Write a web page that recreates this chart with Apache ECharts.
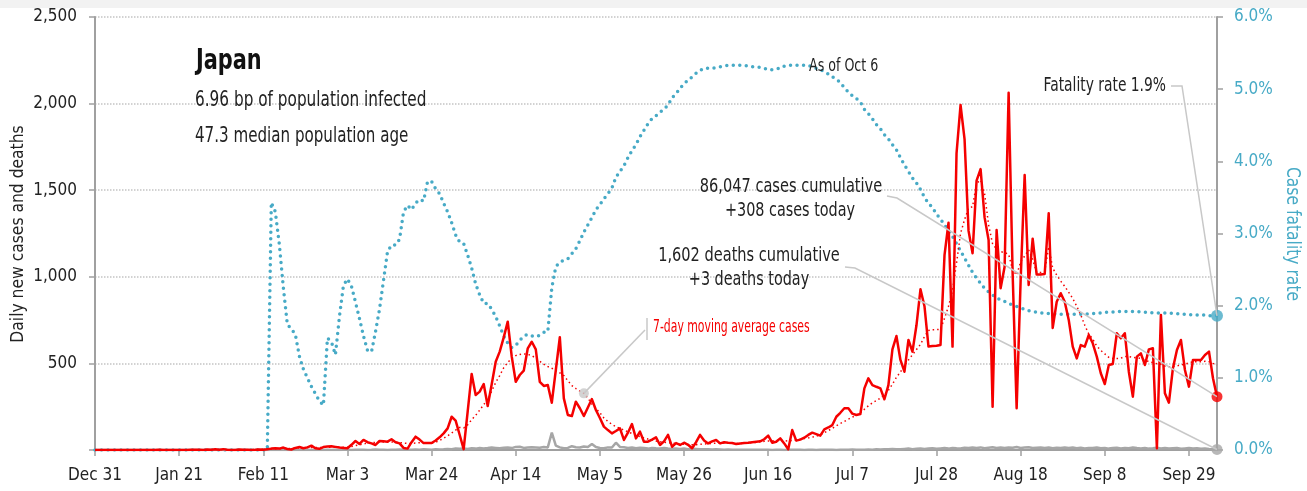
<!DOCTYPE html>
<html>
<head>
<meta charset="utf-8">
<script src="https://cdn.jsdelivr.net/npm/echarts@6/dist/echarts.min.js"></script>
<style>
  html, body { margin: 0; padding: 0; background: #fff; }
  #chart { width: 1307px; height: 491px; }
</style>
</head>
<body>
<div id="chart"></div>
<script>
// daily data, Dec 31 .. Oct 6 (281 days)
var startDay = Date.UTC(2019, 11, 31);
var dayCount = 281;
var months = ['Jan','Feb','Mar','Apr','May','Jun','Jul','Aug','Sep','Oct','Nov','Dec'];
var tickEvery = 21;

var cases = [
  0,0,0,0,0,0,0,0,0,0, 0,0,0,0,0,0,1,0,0,0,
  0,0,0,0,1,1,1,0,3,1, 4,2,5,2,0,0,3,2,1,0,
  1,3,2,4,8,10,8,14,6,3, 12,17,10,15,25,10,7,17,20,21,
  18,14,12,10,30,52,35,58,45,38, 29,52,50,48,62,45,38,12,8,45,
  77,60,40,40,40,55,73,96,125,192, 170,88,5,222,439,318,337,381,254,380,
  510,568,650,741,539,394,433,458,587,625, 581,394,370,375,273,462,651,298,202,196,
  279,241,196,245,294,231,185,135,115,96, 110,125,58,100,150,67,106,48,48,60,
  73,29,50,87,19,40,29,42,30,10, 45,87,55,38,50,58,38,45,42,40,
  35,38,40,42,45,48,50,62,83,42, 48,67,38,4,115,54,60,71,87,100,
  92,83,119,130,144,192,215,241,241,210, 202,208,356,414,375,365,356,293,375,581,
  658,520,452,635,568,720,928,830,597,600, 602,606,1125,1312,597,1713,1992,1795,1265,1136,
  1555,1622,1343,1213,250,1270,934,1058,2062,1020, 241,982,1588,953,1220,1013,1013,1016,1367,705,
  856,905,856,751,597,529,606,597,664,616, 539,443,381,491,497,674,645,674,452,308,
  539,558,491,581,587,10,780,327,273,472, 577,635,462,366,520,520,520,549,568,414,
  308
];

var avg7 = [
  0,0,0,0,0,0,0,0,0,0, 0,0,0,0,0,0,0,0,0,0,
  0,0,0,0,1,1,1,1,2,2, 2,2,2,2,2,2,2,2,2,2,
  3,4,5,6,6,7,7,8,8,8, 10,12,13,14,14,15,15,15,16,16,
  16,16,16,16,20,25,30,35,40,42, 44,45,46,47,46,45,43,40,38,38,
  40,42,42,40,40,45,55,68,82,98, 115,130,127,145,175,200,230,262,290,340,
  390,430,475,505,530,545,552,555,552,545, 530,512,495,482,472,460,445,430,400,372,
  355,340,327,300,265,240,215,185,165,148, 135,125,115,105,95,85,78,70,63,57,
  52,48,45,42,40,38,35,33,32,30, 31,33,35,36,38,40,40,41,40,39,
  38,38,39,41,42,44,47,50,52,53, 54,55,54,52,55,58,62,66,70,74,
  80,88,100,112,125,140,153,165,178,190, 200,215,235,255,272,285,300,320,345,380,
  420,450,490,520,550,580,610,655,690,695, 695,697,760,830,920,1080,1250,1330,1395,1405,
  1540,1559,1480,1300,1190,1160,1145,1140,1130,1040, 1010,1087,1120,1155,1100,1025,1025,1030,1174,1050,
  1010,975,945,910,875,830,780,720,670,640, 600,575,555,535,528,528,530,540,540,535,
  532,529,520,510,505,498,495,485,481,482, 486,491,496,502,510,510,510,512,510,500,
  491
];

var deaths = [
  0,0,0,0,0,0,0,0,0,0, 0,0,0,0,0,0,0,0,0,0,
  0,0,0,0,0,0,0,0,0,0, 0,0,0,0,0,0,0,0,0,0,
  0,0,0,0,1,0,0,0,0,0, 0,0,0,1,0,0,1,0,1,0,
  1,0,2,1,0,1,1,2,0,1, 3,1,2,0,2,1,3,2,1,2,
  3,2,4,3,2,5,3,4,6,5, 8,7,9,6,10,8,12,9,11,14,
  12,10,13,15,11,18,19,12,14,16, 15,13,17,15,100,25,15,10,12,22,
  16,14,20,18,35,17,12,10,15,14, 42,18,16,12,14,10,13,11,8,12,
  10,9,11,8,7,9,6,8,5,7, 6,5,4,5,3,4,3,2,3,2,
  2,1,2,1,2,1,1,2,1,0, 1,1,0,1,2,1,1,0,1,1,
  0,1,1,2,1,0,1,2,1,3, 2,1,2,3,2,4,3,5,4,6,
  5,4,6,8,5,7,9,6,8,10, 7,9,11,8,12,10,9,13,11,14,
  12,15,10,13,16,12,14,11,15,13, 17,12,14,16,11,13,15,12,14,10,
  13,11,15,12,14,10,13,9,12,11, 14,10,12,8,11,13,9,12,10,14,
  11,9,12,8,10,13,9,11,8,10, 12,7,9,11,8,10,7,9,6,5,
  3
];

var fatalityRate = [
  0,0,0,0,0,0,0,0,0,0, 0,0,0,0,0,0,0,0,0,0,
  0,0,0,0,0,0,0,0,0,0, 0,0,0,0,0,0,0,0,0,0,
  0,0,0,0,3.43,3.30,2.85,2.25,1.74,1.68, 1.60,1.30,1.12,1.00,0.88,0.78,0.68,0.62,1.55,1.50,
  1.32,1.85,2.28,2.37,2.27,2.05,1.82,1.58,1.38,1.36, 1.64,1.95,2.35,2.75,2.84,2.84,2.92,3.30,3.39,3.33,
  3.42,3.47,3.45,3.72,3.72,3.62,3.55,3.42,3.30,3.15, 2.98,2.88,2.86,2.70,2.52,2.30,2.15,2.03,2.03,1.95,
  1.85,1.72,1.58,1.48,1.42,1.45,1.52,1.58,1.60,1.58, 1.57,1.59,1.63,1.64,2.25,2.54,2.60,2.63,2.65,2.72,
  2.79,2.90,3.02,3.12,3.22,3.33,3.40,3.48,3.55,3.63, 3.78,3.86,3.94,4.05,4.15,4.23,4.34,4.43,4.52,4.59,
  4.63,4.68,4.72,4.78,4.88,4.94,5.01,5.08,5.12,5.17, 5.22,5.26,5.29,5.29,5.29,5.30,5.31,5.32,5.33,5.33,
  5.33,5.33,5.33,5.32,5.31,5.31,5.30,5.29,5.27,5.27, 5.28,5.29,5.32,5.33,5.33,5.33,5.33,5.33,5.33,5.31,
  5.29,5.27,5.24,5.21,5.17,5.14,5.09,5.02,4.96,4.91, 4.87,4.82,4.72,4.66,4.59,4.51,4.45,4.37,4.31,4.23,
  4.16,4.05,3.95,3.86,3.77,3.70,3.61,3.50,3.42,3.36, 3.27,3.20,3.12,3.04,2.96,2.86,2.76,2.66,2.56,2.46,
  2.38,2.31,2.24,2.19,2.15,2.11,2.08,2.06,2.03,2.01, 1.99,1.97,1.95,1.93,1.92,1.91,1.90,1.90,1.89,1.89,
  1.88,1.88,1.88,1.88,1.88,1.88,1.88,1.88,1.89,1.89, 1.90,1.90,1.91,1.91,1.91,1.92,1.92,1.92,1.92,1.92,
  1.92,1.91,1.91,1.91,1.90,1.90,1.90,1.90,1.90,1.89, 1.89,1.88,1.88,1.88,1.87,1.87,1.87,1.87,1.86,1.86,
  1.86
];

var calloutDay = 122;  // where the moving-average label points

var dates = [];
for (var i = 0; i < dayCount; i++) {
  var d = new Date(startDay + i * 86400000);
  dates.push(months[d.getUTCMonth()] + ' ' + d.getUTCDate());
}

var RED = '#f50000';
var TEAL = '#47aac6';
var GRAY = '#a6a6a6';
var AXIS = '#a0a0a0';
var FONT = "'Liberation Sans Narrow', 'DejaVu Sans Condensed', sans-serif";
var last = dayCount - 1;

var chart = echarts.init(document.getElementById('chart'));

var option = {
  animation: false,
  backgroundColor: '#fff',
  textStyle: { fontFamily: FONT },
  grid: { left: 95, right: 90, top: 17, bottom: 41 },
  xAxis: {
    type: 'category',
    data: dates,
    boundaryGap: false,
    axisLine: { lineStyle: { color: AXIS, width: 2 } },
    axisTick: {
      length: 6,
      interval: function (idx) { return idx % tickEvery === 0; },
      lineStyle: { color: AXIS, width: 1.5 }
    },
    axisLabel: {
      interval: function (idx) { return idx % tickEvery === 0; },
      color: '#222', fontSize: 17, margin: 17, fontFamily: FONT
    },
    splitLine: { show: false }
  },
  yAxis: [{
    type: 'value', min: 0, max: 2500, interval: 500,
    axisLine: { show: true, lineStyle: { color: AXIS, width: 2 } },
    axisTick: { show: true, length: 6, lineStyle: { color: AXIS, width: 1.5 } },
    axisLabel: {
      color: '#222', fontSize: 17, margin: 18, fontFamily: FONT,
      formatter: function (v) { return v === 0 ? '' : v.toLocaleString('en-US'); }
    },
    splitLine: { lineStyle: { color: '#c4c4c4', type: 'dotted', width: 1.5 } }
  }, {
    type: 'value', min: 0, max: 6, interval: 1, position: 'right',
    axisLine: { show: true, lineStyle: { color: AXIS, width: 2 } },
    axisTick: { show: true, length: 6, lineStyle: { color: AXIS, width: 1.5 } },
    axisLabel: {
      color: TEAL, fontSize: 17, margin: 17, fontFamily: FONT,
      formatter: function (v) { return v.toFixed(1) + '%'; }
    },
    splitLine: { show: false }
  }],
  series: [
    {
      name: 'Case fatality rate', type: 'line', yAxisIndex: 1,
      data: fatalityRate, symbol: 'none',
      lineStyle: { color: TEAL, width: 3.5, type: [0, 6.5], cap: 'round' },
      z: 2
    },
    {
      name: 'Deaths', type: 'line', data: deaths, symbol: 'none',
      lineStyle: { color: GRAY, width: 2.5 }, z: 3
    },
    {
      name: '7-day average', type: 'line', data: avg7, symbol: 'none',
      lineStyle: { color: RED, width: 1.5, type: [1.5, 3] }, z: 4
    },
    {
      name: 'Cases', type: 'line', data: cases, symbol: 'none',
      lineStyle: { color: RED, width: 2.5, join: 'round' }, z: 5
    },
    {
      type: 'scatter', yAxisIndex: 0, symbolSize: 11, z: 6,
      data: [
        { value: [dates[last], cases[last]], itemStyle: { color: RED } },
        { value: [dates[last], deaths[last]], itemStyle: { color: GRAY } },
        { value: [dates[calloutDay], avg7[calloutDay]], symbolSize: 10, itemStyle: { color: '#c8c8c8' } }
      ]
    },
    {
      type: 'scatter', yAxisIndex: 1, symbolSize: 12, z: 6,
      data: [{ value: [dates[last], fatalityRate[last]], itemStyle: { color: TEAL } }]
    }
  ]
};

chart.setOption(option);

// annotation lines go to the drawn end points
var pCase = chart.convertToPixel({ xAxisIndex: 0, yAxisIndex: 0 }, [last, cases[last]]);
var pDeath = chart.convertToPixel({ xAxisIndex: 0, yAxisIndex: 0 }, [last, deaths[last]]);
var pRate = chart.convertToPixel({ xAxisIndex: 0, yAxisIndex: 1 }, [last, fatalityRate[last]]);
var pAvg = chart.convertToPixel({ xAxisIndex: 0, yAxisIndex: 0 }, [calloutDay, avg7[calloutDay]]);

var LEAD = { stroke: '#c8c8c8', lineWidth: 1.5, fill: null };
// narrow text: the reference uses a condensed face, so squeeze horizontally
function txt(x, y, s, font, sx, align, color, rot) {
  return {
    type: 'text', x: x, y: y, scaleX: sx, scaleY: 1, rotation: rot || 0,
    style: { text: s, fill: color || '#222', font: font, textAlign: align || 'left', textVerticalAlign: 'middle' },
    z: 20
  };
}

chart.setOption({
  graphic: [
    { type: 'rect', shape: { x: 0, y: 0, width: 1307, height: 8 }, style: { fill: '#f2f2f2' }, z: 0 },
    txt(196, 61, 'Japan', 'bold 29px ' + FONT, 0.8, 'left', '#111'),
    txt(195, 101, '6.96 bp of population infected', '21px ' + FONT, 0.81),
    txt(195, 137, '47.3 median population age', '21px ' + FONT, 0.8),
    txt(809, 66, 'As of Oct 6', '18px ' + FONT, 0.78),
    txt(1166, 86, 'Fatality rate 1.9%', '20px ' + FONT, 0.77, 'right'),
    txt(791, 187, '86,047 cases cumulative', '20px ' + FONT, 0.81, 'center'),
    txt(790, 211, '+308 cases today', '20px ' + FONT, 0.8, 'center'),
    txt(749, 256, '1,602 deaths cumulative', '20px ' + FONT, 0.81, 'center'),
    txt(749, 280, '+3 deaths today', '20px ' + FONT, 0.8, 'center'),
    txt(653, 328, '7-day moving average cases', '17px ' + FONT, 0.71, 'left', RED),
    txt(18, 234, 'Daily new cases and deaths', '18px ' + FONT, 0.96, 'center', '#222', Math.PI / 2),
    txt(1292, 234, 'Case fatality rate', '19px ' + FONT, 0.91, 'center', TEAL, -Math.PI / 2),
    { type: 'polyline', shape: { points: [[1171, 86], [1182, 86], pRate] }, style: LEAD, z: 15 },
    { type: 'polyline', shape: { points: [[887, 196], [897, 198], pCase] }, style: LEAD, z: 15 },
    { type: 'polyline', shape: { points: [[845, 267], [855, 268], pDeath] }, style: LEAD, z: 15 },
    { type: 'line', shape: { x1: 647, y1: 318, x2: 647, y2: 340 }, style: LEAD, z: 15 },
    { type: 'line', shape: { x1: 645, y1: 330, x2: pAvg[0], y2: pAvg[1] }, style: LEAD, z: 15 }
  ]
});
</script>
</body>
</html>
